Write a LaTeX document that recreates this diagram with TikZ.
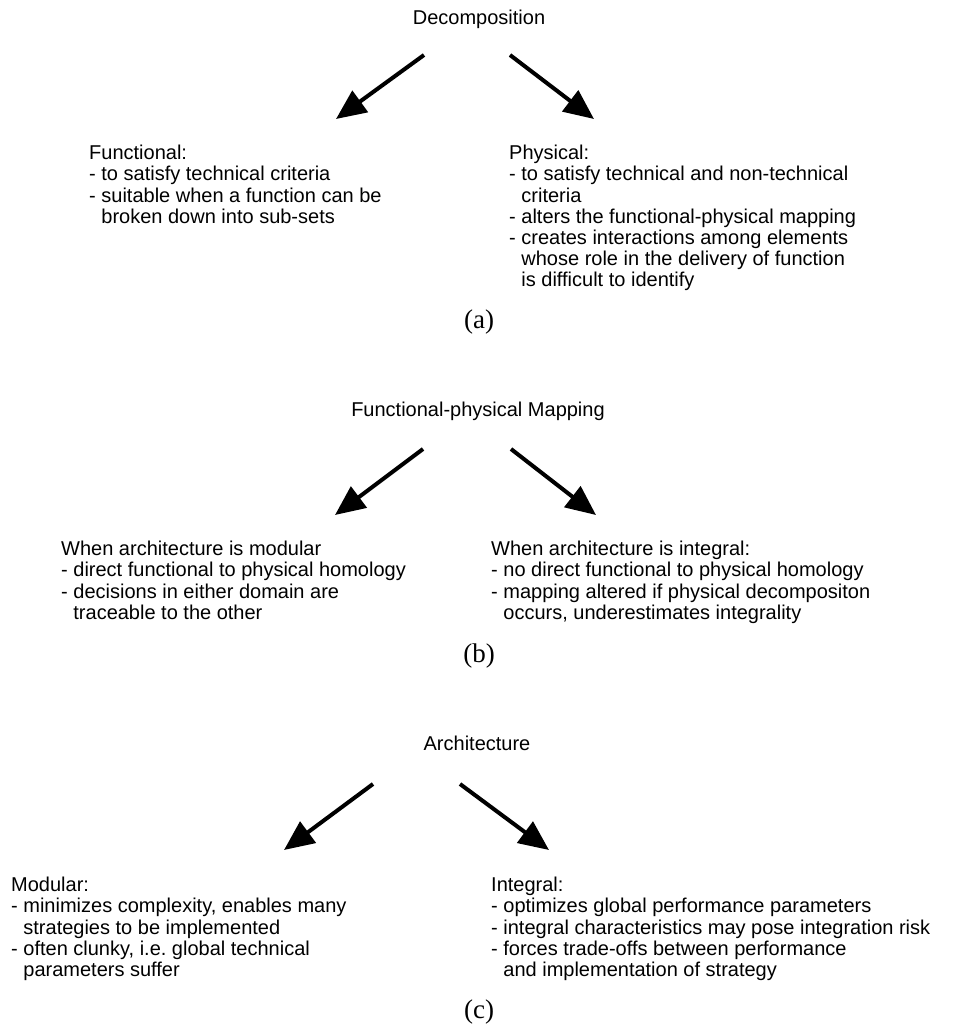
\documentclass[tikz,border=0pt]{standalone}
\usepackage{fontspec}
\setmainfont{Liberation Serif}
\newfontfamily\helv{Liberation Sans}
\usetikzlibrary{arrows.meta}

\tikzset{
  heading/.style={font=\helv\fontsize{20}{21}\selectfont, inner sep=0pt, anchor=base},
  block/.style={font=\helv\fontsize{20}{21.2}\selectfont, align=left, inner sep=0pt, anchor=north west},
  caption/.style={font=\fontsize{27}{30}\selectfont, inner sep=0pt},
  branch/.style={line width=4pt, -{Triangle[length=30pt,width=26pt]}}
}
\newcommand{\cont}{\hphantom{- }}

\begin{document}
\begin{tikzpicture}[x=1pt,y=-1pt]
\useasboundingbox (0,0) rectangle (953,1036);

% (a) decomposition
\node[heading] (dec) at (479,24) {Decomposition};
\coordinate (aLs) at (424,55);  \coordinate (aLe) at (336,119);
\coordinate (aRs) at (510,55);  \coordinate (aRe) at (594,119);
\draw[branch] (aLs) -- (aLe);
\draw[branch] (aRs) -- (aRe);
\node[block] (func) at (89,145) {Functional:\\
- to satisfy technical criteria\\
- suitable when a function can be\\
\cont broken down into sub-sets};
\node[block] (phys) at (509,145) {Physical:\\
- to satisfy technical and non-technical\\
\cont criteria\\
- alters the functional-physical mapping\\
- creates interactions among elements\\
\cont whose role in the delivery of function\\
\cont is difficult to identify};
\node[caption] (capa) at (479,322) {(a)};

% (b) functional-physical mapping
\node[heading] (map) at (478,416) {Functional-physical Mapping};
\coordinate (bLs) at (423,449);  \coordinate (bLe) at (335,515);
\coordinate (bRs) at (511,449);  \coordinate (bRe) at (596,515);
\draw[branch] (bLs) -- (bLe);
\draw[branch] (bRs) -- (bRe);
\node[block] (modm) at (61,541) {When architecture is modular\\
- direct functional to physical homology\\
- decisions in either domain are\\
\cont traceable to the other};
\node[block] (intm) at (491,541) {When architecture is integral:\\
- no direct functional to physical homology\\
- mapping altered if physical decompositon\\
\cont occurs, underestimates integrality};
\node[caption] (capb) at (479,656) {(b)};

% (c) architecture
\node[heading] (arch) at (477,750) {Architecture};
\coordinate (cLs) at (373,784);  \coordinate (cLe) at (284,850);
\coordinate (cRs) at (460,784);  \coordinate (cRe) at (549,850);
\draw[branch] (cLs) -- (cLe);
\draw[branch] (cRs) -- (cRe);
\node[block] (modular) at (11,877) {Modular:\\
- minimizes complexity, enables many\\
\cont strategies to be implemented\\
- often clunky, i.e.\ global technical\\
\cont parameters suffer};
\node[block] (integral) at (491,877) {Integral:\\
- optimizes global performance parameters\\
- integral characteristics may pose integration risk\\
- forces trade-offs between performance\\
\cont and implementation of strategy};
\node[caption] (capc) at (479,1012) {(c)};
\end{tikzpicture}
\end{document}
